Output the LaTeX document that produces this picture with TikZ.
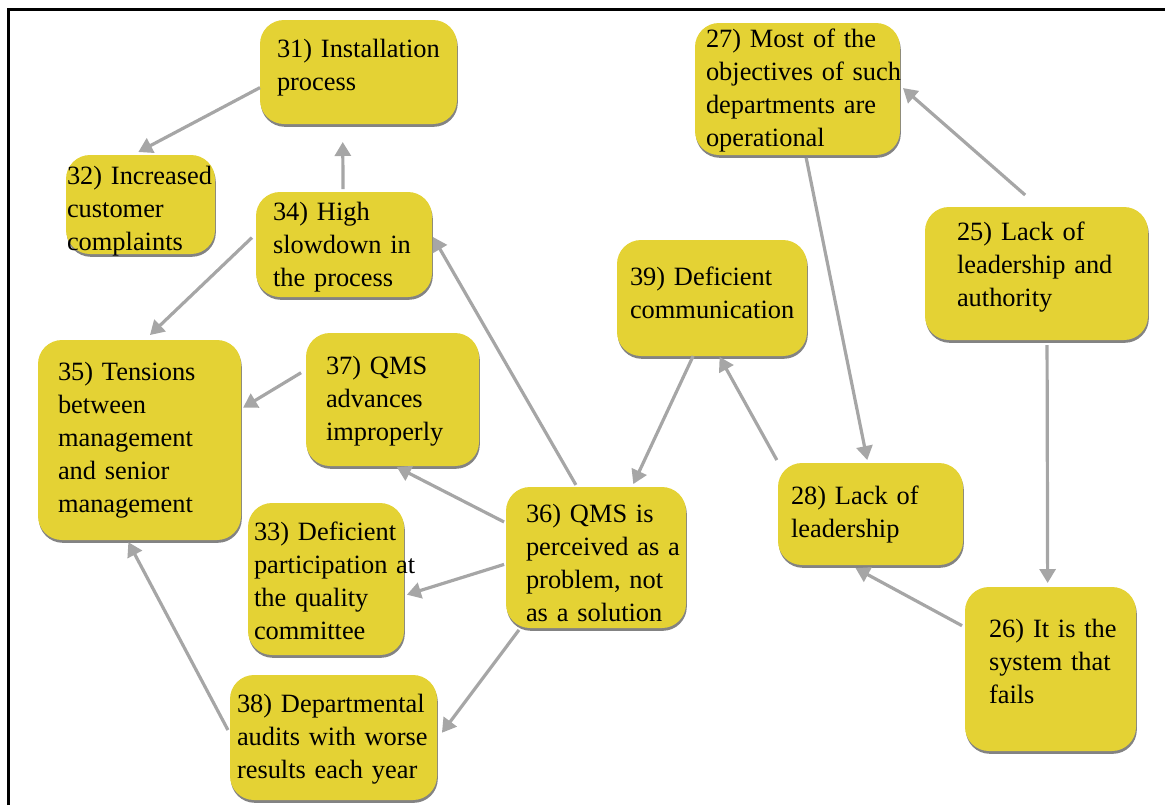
\documentclass[tikz,border=0pt]{standalone}
\usepackage{fontspec}
\setmainfont{Liberation Serif}
\usetikzlibrary{arrows.meta,shadows}
\definecolor{cardyellow}{RGB}{228,210,52}
\definecolor{linkgray}{RGB}{166,166,166}

\begin{document}
\begin{tikzpicture}[
    x=0.5pt, y=-0.5pt,
    card/.style n args={4}{rectangle, rounded corners=12pt, fill=cardyellow, anchor=north west,
        drop shadow={shadow xshift=0.4pt, shadow yshift=-1.4pt, opacity=0.75, fill=black!65},
        align=left, font=\fontsize{13.2}{16.5}\selectfont, outer sep=0pt, inner ysep=0pt,
        execute at begin node={\hyphenpenalty=10000\relax},
        text width=#1, inner xsep=#2, text height=#3, text depth=#4},
    link/.style={draw=linkgray, line width=1.6pt, -{Triangle[length=7pt,width=8pt]}}
]
    \useasboundingbox (0,0) rectangle (1165,805);
    \draw[line width=1.5pt] (8,805) -- (8,9) -- (1165,9);

    \node[card={81.5pt}{8.5pt}{18.75pt}{33.25pt}] (install) at (260,20) {31)~Installation\\process};
    \node[card={73.5pt}{0.5pt}{14.75pt}{34.75pt}] (complaints) at (66,155) {32)~Increased\\customer\\complaints};
    \node[card={71pt}{8.5pt}{14.25pt}{38.25pt}] (slowdown) at (256,192) {34) High\\slowdown in\\the process};
    \node[card={91.5pt}{5.5pt}{12.25pt}{53.75pt}] (objectives) at (695,23) {27) Most of the\\objectives~of~such\\departments are\\operational};
    \node[card={79.5pt}{16pt}{16.75pt}{49.75pt}] (authority) at (925,207) {25) Lack of\\leadership and\\authority};
    \node[card={82pt}{6.5pt}{22.75pt}{35.25pt}] (communication) at (617,240) {39) Deficient\\communication};
    \node[card={81.5pt}{10pt}{20.25pt}{79.75pt}] (tensions) at (38,340) {35) Tensions\\between\\management\\and senior\\management};
    \node[card={66.5pt}{10pt}{20.75pt}{45.75pt}] (advances) at (306,333) {37) QMS\\advances\\improperly};
    \node[card={70pt}{10pt}{17.75pt}{52.75pt}] (problem) at (506,487) {36) QMS is\\perceived~as~a\\problem, not\\as a solution};
    \node[card={72pt}{3pt}{18.75pt}{57.25pt}] (participation) at (248,503) {33) Deficient\\participation~at\\the quality\\committee};
    \node[card={79.5pt}{6.5pt}{20.75pt}{30.25pt}] (leadership) at (778,463) {28) Lack of\\leadership};
    \node[card={61.5pt}{12pt}{25.25pt}{56.75pt}] (system) at (965,587) {26)~It~is~the\\system~that\\fails};
    \node[card={96.5pt}{3.5pt}{18.75pt}{43.75pt}] (audits) at (230,675) {38) Departmental\\audits with worse\\results each year};

    \foreach \from/\to/\pre/\post in {install.189/complaints.99/0/3.2, slowdown.91/install.253/1.5/9,
        slowdown.173/tensions.87/2.8/3.6, problem.105/slowdown.6/1.2/1, advances.161/tensions.17/2.9/1.2,
        problem.159/advances.272/1.1/1.1, problem.184/participation.348/1/1.5, problem.223/audits.359/1.2/4.1,
        audits.178/tensions.263/2.2/1.2, communication.252/problem.63/0/1.6, leadership.151/communication.277/1.7/0.5,
        objectives.277/leadership.93/1.5/1.5, authority.88/objectives.2/9.1/2, authority.279/system.92/2.5/2,
        system.154/leadership.248/1.7/3.2}
        \draw[link, shorten <=\pre pt, shorten >=\post pt] (\from) -- (\to);
\end{tikzpicture}
\end{document}
